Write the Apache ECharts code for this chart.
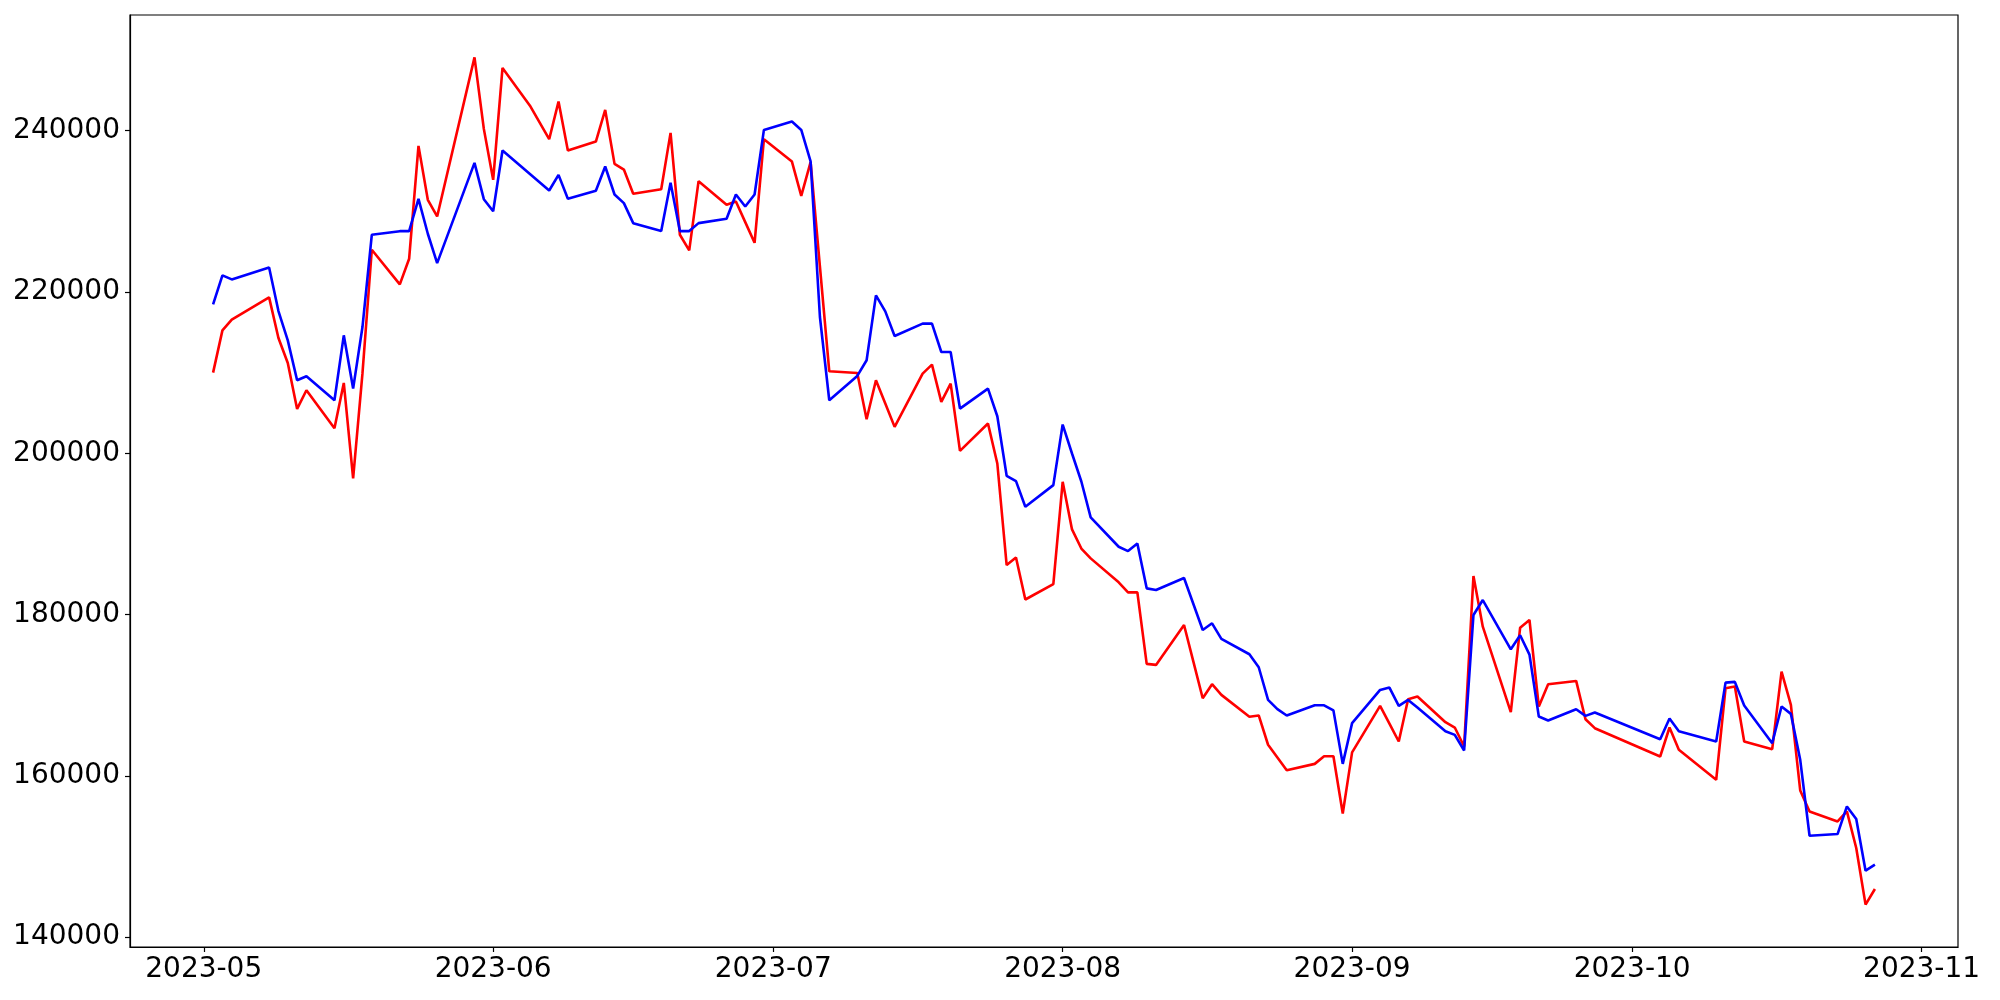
<!DOCTYPE html>
<html>
<head>
<meta charset="utf-8">
<script src="https://cdn.jsdelivr.net/npm/echarts@6/dist/echarts.min.js"></script>
<style>
html,body{margin:0;padding:0;background:#fff;}
#chart{width:2000px;height:1000px;}
</style>
</head>
<body>
<div id="chart"></div>
<script>
const dates = [
'2023-05-02','2023-05-03','2023-05-04','2023-05-08','2023-05-09','2023-05-10','2023-05-11','2023-05-12',
'2023-05-15','2023-05-16','2023-05-17','2023-05-18','2023-05-19','2023-05-22','2023-05-23','2023-05-24',
'2023-05-25','2023-05-26','2023-05-30','2023-05-31','2023-06-01','2023-06-02','2023-06-05','2023-06-06',
'2023-06-07','2023-06-08','2023-06-09','2023-06-12','2023-06-13','2023-06-14','2023-06-15','2023-06-16',
'2023-06-19','2023-06-20','2023-06-21','2023-06-22','2023-06-23','2023-06-26','2023-06-27','2023-06-28',
'2023-06-29','2023-06-30','2023-07-03','2023-07-04','2023-07-05','2023-07-06','2023-07-07','2023-07-10',
'2023-07-11','2023-07-12','2023-07-13','2023-07-14','2023-07-17','2023-07-18','2023-07-19','2023-07-20',
'2023-07-21','2023-07-24','2023-07-25','2023-07-26','2023-07-27','2023-07-28','2023-07-31','2023-08-01',
'2023-08-02','2023-08-03','2023-08-04','2023-08-07','2023-08-08','2023-08-09','2023-08-10','2023-08-11',
'2023-08-14','2023-08-15','2023-08-16','2023-08-17','2023-08-18','2023-08-21','2023-08-22','2023-08-23',
'2023-08-24','2023-08-25','2023-08-28','2023-08-29','2023-08-30','2023-08-31','2023-09-01','2023-09-04',
'2023-09-05','2023-09-06','2023-09-07','2023-09-08','2023-09-11','2023-09-12','2023-09-13','2023-09-14',
'2023-09-15','2023-09-18','2023-09-19','2023-09-20','2023-09-21','2023-09-22','2023-09-25','2023-09-26',
'2023-09-27','2023-10-04','2023-10-05','2023-10-06','2023-10-10','2023-10-11','2023-10-12','2023-10-13',
'2023-10-16','2023-10-17','2023-10-18','2023-10-19','2023-10-20','2023-10-23','2023-10-24','2023-10-25',
'2023-10-26','2023-10-27'
];

const blueValues = [
218462,222054,221558,223044,217632,214003,209049,209544,
206572,214622,208020,215650,227094,227540,227540,231553,
227218,223577,236012,231504,230018,237535,234564,233574,
232583,234523,231551,232542,235555,232088,231015,228537,
227547,233533,227547,227547,228537,229075,232088,230602,
232088,240096,241128,240096,236200,216896,206576,209589,
211529,219579,217597,214543,216070,216070,212561,212561,
205543,208020,204594,197205,196544,193366,196049,203562,
199971,196500,192044,188411,187874,188824,183250,183044,
184531,181310,178091,178917,176977,175078,173468,169422,
168279,167489,168753,168753,168121,161486,166541,170658,
170947,168677,169419,168470,165539,165085,163145,179946,
181803,175694,177428,175033,167355,166860,168264,167438,
167851,164549,167108,165539,164260,171566,171649,168718,
164053,168594,167686,161989,152577,152783,156208,154640,
148241,148984
];

const redValues = [
210000,215241,216567,219329,214288,211192,205495,207810,
203104,208715,196874,209900,225236,220939,224122,238117,
231429,229361,249091,240223,233906,247778,242986,240963,
238940,243605,237537,238651,242573,235885,235184,232170,
232748,239724,227093,225153,233739,230808,231221,228661,
226102,238940,236174,231923,236092,223129,210167,209961,
204223,209052,206163,203273,209878,210992,206369,208640,
200301,203686,198732,186132,187080,181867,183763,196462,
190555,188186,186966,183994,182755,182755,173881,173757,
178711,174169,169628,171362,170041,167334,167489,163856,
162276,160696,161486,162434,162434,155325,162908,168676,
166489,164260,169502,169832,166654,165993,163640,184776,
178501,167892,178377,179327,168594,171360,171772,167026,
165911,162402,165994,163228,159512,170864,171071,164260,
163310,172928,168800,158191,155590,154352,155590,151050,
144032,145972
];

const yTicks = [140000,160000,180000,200000,220000,240000];
const xTicks = ['2023-05-01','2023-06-01','2023-07-01','2023-08-01','2023-09-01','2023-10-01','2023-11-01'];

function ts(s){ const p = s.split('-').map(Number); return Date.UTC(p[0], p[1]-1, p[2]); }

const tDates = dates.map(ts);
const tMin = Math.min(...tDates), tMax = Math.max(...tDates);
const tPad = (tMax - tMin) * 0.05;
const allV = blueValues.concat(redValues);
const vMin = Math.min(...allV), vMax = Math.max(...allV);
const vPad = (vMax - vMin) * 0.05;
const xTickTs = xTicks.map(ts);

const chart = echarts.init(document.getElementById('chart'), null, {renderer:'canvas'});
const font = 'DejaVu Sans';
chart.setOption({
  animation: false,
  backgroundColor: '#ffffff',
  grid: {left: 130, right: 42, top: 15, bottom: 53, show: true, borderColor: '#000', borderWidth: 1.2, containLabel: false},
  xAxis: {
    type: 'value',
    min: tMin - tPad,
    max: tMax + tPad,
    splitLine: {show: false},
    axisLine: {show: true, onZero: false, lineStyle: {color: '#000', width: 1.2}},
    axisTick: {show: true, length: 5, inside: false, lineStyle: {color: '#000', width: 1.2}, customValues: xTickTs},
    axisLabel: {
      customValues: xTickTs,
      color: '#000', fontFamily: font, fontSize: 28, margin: 9,
      formatter: function(v){ const d = new Date(v); return d.getUTCFullYear() + '-' + String(d.getUTCMonth()+1).padStart(2,'0'); }
    }
  },
  yAxis: {
    type: 'value',
    min: vMin - vPad,
    max: vMax + vPad,
    splitLine: {show: false},
    axisLine: {show: true, onZero: false, lineStyle: {color: '#000', width: 1.2}},
    axisTick: {show: true, length: 5, lineStyle: {color: '#000', width: 1.2}, customValues: yTicks},
    axisLabel: {customValues: yTicks, color: '#000', fontFamily: font, fontSize: 28, margin: 10,
      formatter: function(v){ return String(Math.round(v)); }}
  },
  series: [
    {type: 'line', name: 'red', data: dates.map((d,i)=>[ts(d), redValues[i]]), showSymbol: false, symbol: 'none',
     lineStyle: {color: '#ff0000', width: 2.6}, itemStyle: {color: '#ff0000'}, z: 2},
    {type: 'line', name: 'blue', data: dates.map((d,i)=>[ts(d), blueValues[i]]), showSymbol: false, symbol: 'none',
     lineStyle: {color: '#0000ff', width: 2.6}, itemStyle: {color: '#0000ff'}, z: 3}
  ]
});
</script>
</body>
</html>
